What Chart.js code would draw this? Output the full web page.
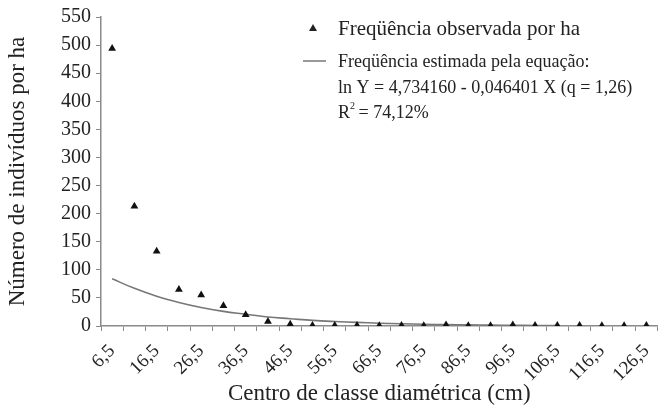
<!DOCTYPE html>
<html>
<head>
<meta charset="utf-8">
<script src="https://cdn.jsdelivr.net/npm/chart.js@4/dist/chart.umd.min.js"></script>
<style>
    body { margin: 0; background: #fff; }
    #wrap { width: 662px; height: 408px; }
</style>
</head>
<body>
<div id="wrap"><canvas id="grafico" width="662" height="408"></canvas></div>
<script>
// Centros de classe (cm)
const classes = ['6,5', '11,5', '16,5', '21,5', '26,5', '31,5', '36,5', '41,5', '46,5', '51,5',
    '56,5', '61,5', '66,5', '71,5', '76,5', '81,5', '86,5', '91,5', '96,5', '101,5',
    '106,5', '111,5', '116,5', '121,5', '126,5'];

// Frequência observada por ha
const observada = [494, 213, 133, 65, 55, 36, 20, 8, 3, 1,
    1, 1, 0.5, 1, 0.5, 2, 0.5, 0.5, 2, 1,
    1, 1, 0.5, 0.5, 1];

// Frequência estimada (curva, até 106,5)
const estimada = [84, 67, 53, 42, 33, 26, 21, 16, 13, 10,
    8, 6.5, 5, 4, 3, 2.5, 2, 1.5, 1.2, 1,
    0.8];

const yTicks = [0, 50, 100, 150, 200, 250, 300, 350, 400, 450, 500, 550];

const serif = "'Liberation Serif', 'Times New Roman', serif";
const eixoCor = '#8a8a8a';

// Legenda desenhada dentro da área do gráfico
const legendaPlugin = {
    id: 'legenda',
    afterDraw(chart) {
        const ctx = chart.ctx;
        ctx.save();
        ctx.fillStyle = '#222';
        ctx.textBaseline = 'middle';

        // marcador triângulo
        ctx.beginPath();
        ctx.moveTo(313, 24);
        ctx.lineTo(317, 31);
        ctx.lineTo(309, 31);
        ctx.closePath();
        ctx.fill();

        ctx.font = '21px ' + serif;
        ctx.fillText('Freqüência observada por ha', 338, 29);

        // marcador linha
        ctx.strokeStyle = '#777';
        ctx.lineWidth = 1.5;
        ctx.beginPath();
        ctx.moveTo(303, 61);
        ctx.lineTo(326, 61);
        ctx.stroke();

        ctx.font = '18px ' + serif;
        ctx.fillText('Freqüência estimada pela equação:', 338, 62);
        ctx.fillText('ln Y = 4,734160 - 0,046401 X (q = 1,26)', 338, 88);
        ctx.fillText('R', 338, 113);
        const wR = ctx.measureText('R').width;
        ctx.font = '10px ' + serif;
        ctx.fillText('2', 338 + wR, 106);
        ctx.font = '18px ' + serif;
        ctx.fillText(' = 74,12%', 338 + wR + 4, 113);
        ctx.restore();
    }
};

new Chart(document.getElementById('grafico'), {
    type: 'line',
    data: {
        labels: classes,
        datasets: [{
            label: 'Freqüência observada por ha',
            data: observada,
            showLine: false,
            pointStyle: 'triangle',
            pointRadius: 4.5,
            pointBackgroundColor: '#111',
            pointBorderColor: '#111',
            pointBorderWidth: 0
        }, {
            label: 'Freqüência estimada pela equação',
            data: estimada,
            borderColor: '#777',
            borderWidth: 1.6,
            pointRadius: 0,
            tension: 0.4,
            fill: false
        }]
    },
    plugins: [legendaPlugin],
    options: {
        responsive: false,
        animation: false,
        layout: { padding: { top: 17, right: 3, left: 0, bottom: 0 } },
        plugins: {
            legend: { display: false },
            tooltip: { enabled: false }
        },
        scales: {
            x: {
                type: 'category',
                offset: true,
                grid: {
                    offset: true,
                    drawOnChartArea: false,
                    drawTicks: true,
                    tickLength: 5,
                    color: eixoCor
                },
                border: { display: true, color: eixoCor, width: 1.5 },
                ticks: {
                    autoSkip: false,
                    maxRotation: 45,
                    minRotation: 45,
                    color: '#222',
                    padding: 9,
                    font: { family: serif, size: 19 },
                    callback: (v, i) => (i % 2 === 0 ? classes[i] : '')
                },
                title: {
                    display: true,
                    text: 'Centro de classe diamétrica (cm)',
                    color: '#222',
                    font: { family: serif, size: 23 },
                    padding: { top: 0, bottom: 0 }
                },
                afterFit(scale) {
                    scale.height = 82;
                    scale.paddingLeft = 0;
                    scale.paddingRight = 0;
                }
            },
            y: {
                min: 0,
                max: 550,
                afterBuildTicks(scale) { scale.ticks = yTicks.map(v => ({ value: v })); },
                grid: {
                    drawOnChartArea: false,
                    drawTicks: true,
                    tickLength: 5,
                    color: eixoCor
                },
                border: { display: true, color: eixoCor, width: 1.5 },
                ticks: {
                    color: '#222',
                    padding: 5,
                    font: { family: serif, size: 20 }
                },
                title: {
                    display: true,
                    text: 'Número de indivíduos por ha',
                    color: '#222',
                    font: { family: serif, size: 23 },
                    padding: { top: 4, bottom: 0 }
                },
                afterFit(scale) {
                    scale.width = 101;
                    scale.paddingTop = 0;
                    scale.paddingBottom = 0;
                }
            }
        }
    }
});
</script>
</body>
</html>
